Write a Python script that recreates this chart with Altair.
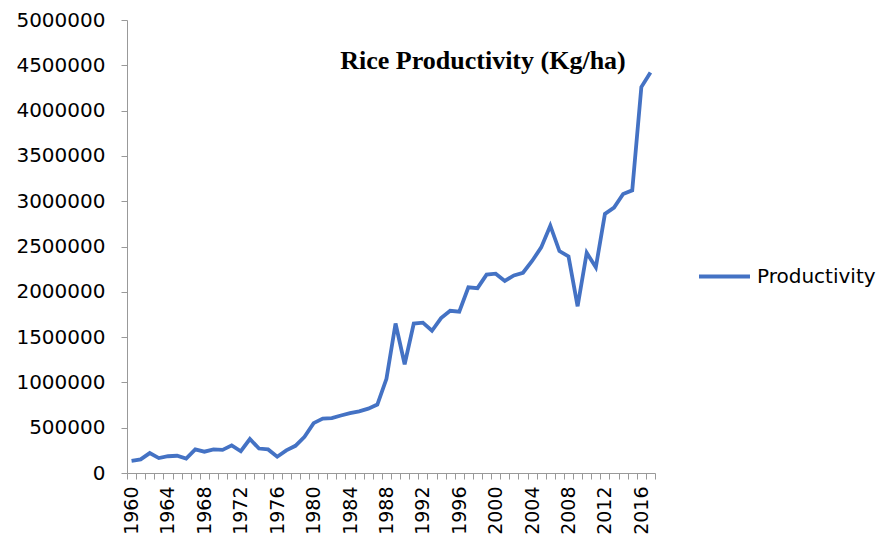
import altair as alt
import pandas as pd

years = list(range(1960, 2018))
productivity = [
    135000, 150000, 220000, 165000, 185000, 190000, 160000, 260000, 235000, 260000,
    255000, 305000, 240000, 375000, 270000, 260000, 180000, 250000, 300000, 400000,
    550000, 600000, 605000, 635000, 660000, 680000, 710000, 755000, 1040000, 1650000,
    1200000, 1650000, 1660000, 1570000, 1710000, 1790000, 1780000, 2050000, 2040000, 2190000,
    2200000, 2120000, 2180000, 2210000, 2340000, 2490000, 2730000, 2450000, 2390000, 1840000,
    2430000, 2270000, 2860000, 2930000, 3080000, 3120000, 4260000, 4420000,
]
series_name = "Productivity"
title_text = "Rice Productivity (Kg/ha)"
label_years = list(range(1960, 2018, 4))
y_ticks = list(range(0, 5000001, 500000))

df = pd.DataFrame({"year": years, "value": productivity, "series": [series_name] * len(years)})
bounds = pd.DataFrame({"b": [y - 0.5 for y in range(1960, 2019)]})

FONT = "DejaVu Sans"
x_scale = alt.Scale(domain=[1959.5, 2017.5], nice=False, zero=False)
y_scale = alt.Scale(domain=[0, 5000000], nice=False)
y_axis = alt.Axis(values=y_ticks, format="d", grid=False, domainColor="#999999", tickColor="#999999",
                  tickSize=6, labelPadding=16, labelFontSize=20, labelFont=FONT, labelColor="#000000",
                  title=None)

line = alt.Chart(df).mark_line(strokeWidth=3.8).encode(
    x=alt.X("year:Q", scale=x_scale,
            axis=alt.Axis(values=label_years, format="d", labelAngle=-90, ticks=False, domain=False,
                          grid=False, labelPadding=13, labelFontSize=19, labelFont=FONT,
                          labelColor="#000000", title=None, orient="bottom")),
    y=alt.Y("value:Q", scale=y_scale, axis=y_axis),
    color=alt.Color("series:N", scale=alt.Scale(range=["#4472C4"]),
                    legend=alt.Legend(title=None, orient="none", legendX=570, legendY=229,
                                      symbolType="stroke", symbolStrokeWidth=3.8, symbolSize=2600,
                                      labelFontSize=20, labelFont=FONT, labelColor="#000000",
                                      labelOffset=5)),
)

ticks = alt.Chart(bounds).mark_rule(opacity=0).encode(
    x=alt.X("b:Q", scale=x_scale,
            axis=alt.Axis(values=list(bounds["b"]), labels=False, tickSize=6, domainColor="#999999",
                          tickColor="#999999", grid=False, title=None, orient="bottom")),
)

title = alt.Chart(pd.DataFrame({"t": [title_text]})).mark_text(
    font="Liberation Serif", fontWeight="bold", fontSize=26, color="#000000"
).encode(text="t:N", x=alt.value(356), y=alt.value(41))

chart = alt.layer(line, ticks, title).resolve_axis(x="independent").properties(
    width=528, height=453,
    padding={"left": 119, "top": 12, "right": 222, "bottom": 62},
    autosize=alt.AutoSizeParams(type="none"),
).configure_view(stroke=None)

chart.save("out.html", embed_options={"renderer": "svg", "actions": False})
